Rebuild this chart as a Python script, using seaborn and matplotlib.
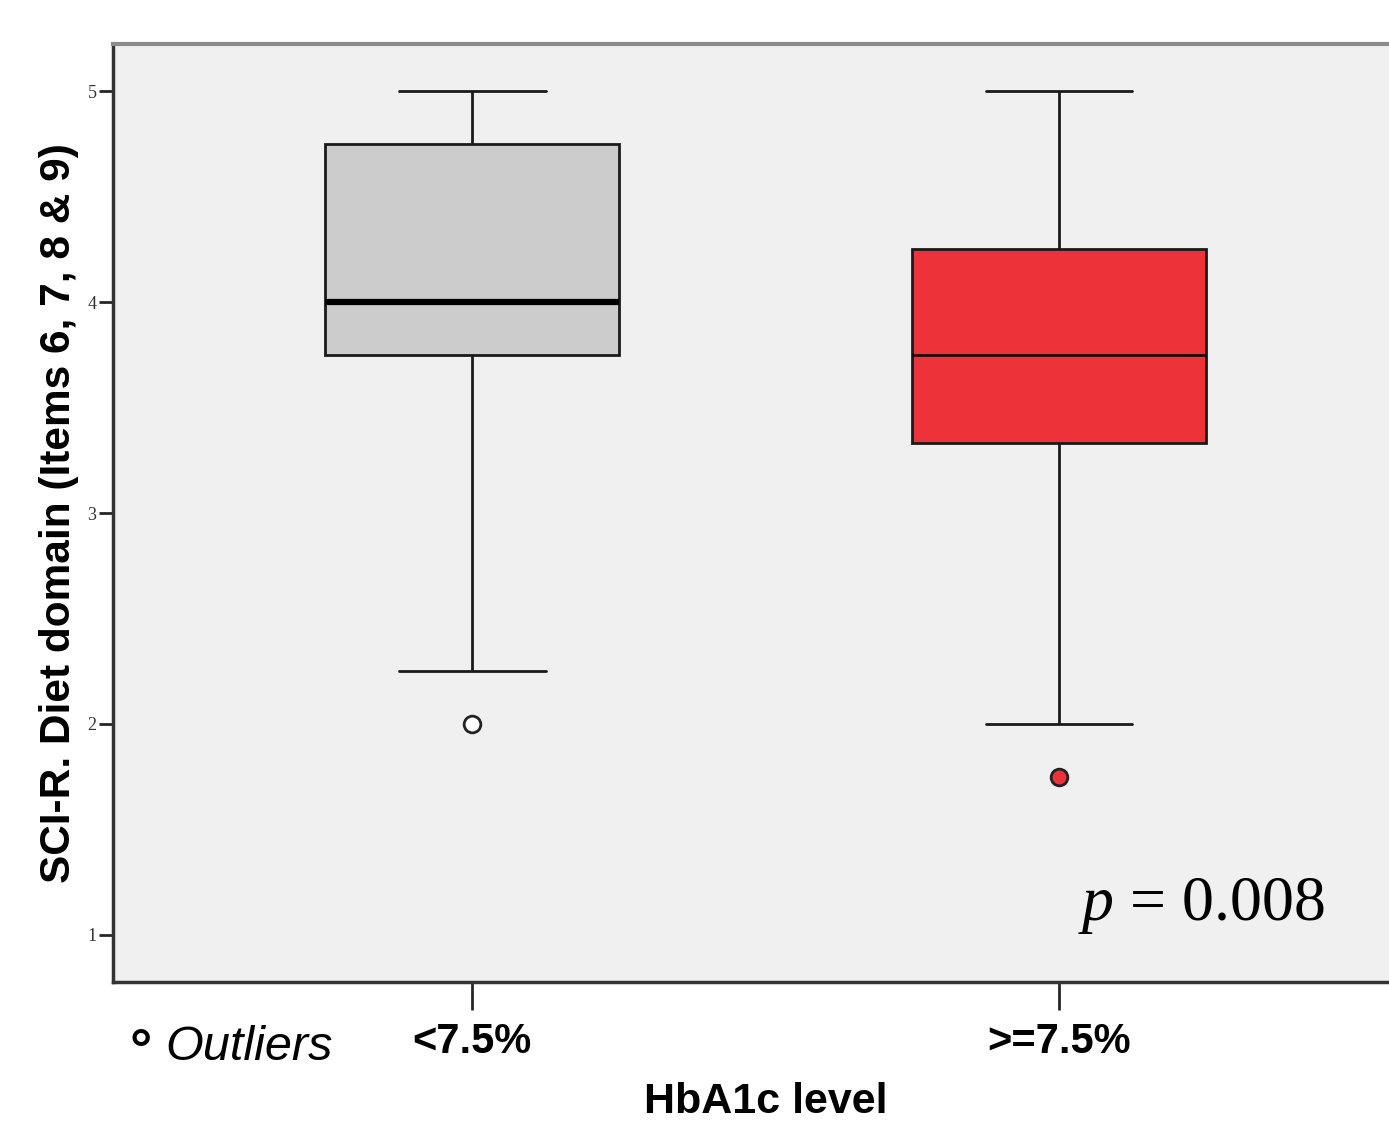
import matplotlib
matplotlib.use('Agg')
import pandas as pd
import matplotlib.pyplot as plt
import seaborn as sns

# SCI-R diet domain scores by HbA1c group
groups = ['<7.5%', '>=7.5%']
diet_below = [2.0, 2.25, 3.75, 3.75, 4.0, 4.5, 4.75, 5.0, 5.0]
diet_above = [1.75, 2.0, 3.333, 3.5, 3.75, 4.0, 4.25, 4.75, 5.0]
y_ticks = [1, 2, 3, 4, 5]

box_colors = ['#CCCCCC', '#EE323A']
flier_colors = ['white', '#EE323A']
median_widths = [4.5, 1.8]

df = pd.DataFrame({
    'HbA1c': [groups[0]] * len(diet_below) + [groups[1]] * len(diet_above),
    'diet': diet_below + diet_above,
})

sns.set_style('white')
plt.rcParams['font.family'] = ['Liberation Sans', 'DejaVu Sans']
plt.rcParams['text.color'] = 'black'
plt.rcParams['axes.labelcolor'] = 'black'
plt.rcParams['mathtext.fontset'] = 'custom'
plt.rcParams['mathtext.it'] = 'Liberation Serif:italic'
plt.rcParams['mathtext.rm'] = 'Liberation Serif'

fig = plt.figure(figsize=(13.89, 11.26), dpi=100)
ax = fig.add_axes([0.0814, 0.1279, 0.9395, 0.833])
ax.set_facecolor('#F0F0F0')

for i, g in enumerate(groups):
    sns.boxplot(data=df[df['HbA1c'] == g], x='HbA1c', y='diet', order=groups,
                width=0.5, color=box_colors[i], saturation=1,
                linecolor='#1a1a1a', linewidth=2.0,
                medianprops=dict(color='black', linewidth=median_widths[i]),
                flierprops=dict(marker='o', markersize=12,
                                markerfacecolor=flier_colors[i],
                                markeredgecolor='#222222', markeredgewidth=2),
                ax=ax)

ax.set_xlim(-0.612, 1.612)
ax.set_ylim(0.777, 5.223)
ax.set_yticks(y_ticks)
ax.set_yticklabels([str(v) for v in y_ticks], family='Liberation Serif',
                   fontsize=13, color='#333333')
ax.set_xticks([0, 1])
ax.set_xticklabels(groups, fontsize=30, fontweight='bold', color='black')
ax.tick_params(axis='y', direction='out', length=10, width=2, pad=2, left=True)
ax.tick_params(axis='x', direction='out', length=20, width=2, pad=9, bottom=True)

for side in ['left', 'bottom']:
    ax.spines[side].set_color('#333333')
    ax.spines[side].set_linewidth(2.5)
ax.spines['top'].set_color('#8a8a8a')
ax.spines['top'].set_linewidth(3)
ax.spines['right'].set_visible(False)

ax.set_ylabel('SCI-R. Diet domain (Items 6, 7, 8 & 9)', fontsize=30.5,
              fontweight='bold', labelpad=6)
ax.set_xlabel('HbA1c level', fontsize=31, fontweight='bold', labelpad=14)

ax.text(0.929, 0.066, r'$p$ = 0.008', transform=ax.transAxes, ha='right',
        va='baseline', family='Liberation Serif', fontsize=46)
fig.text(129 / 1389, 1 - 1068 / 1126, '\u00b0', fontsize=40, fontweight='bold',
         va='baseline')
fig.text(165 / 1389, 1 - 1060 / 1126, 'Outliers', style='italic',
         fontsize=35, va='baseline')

fig.savefig('out.png', dpi=100)
